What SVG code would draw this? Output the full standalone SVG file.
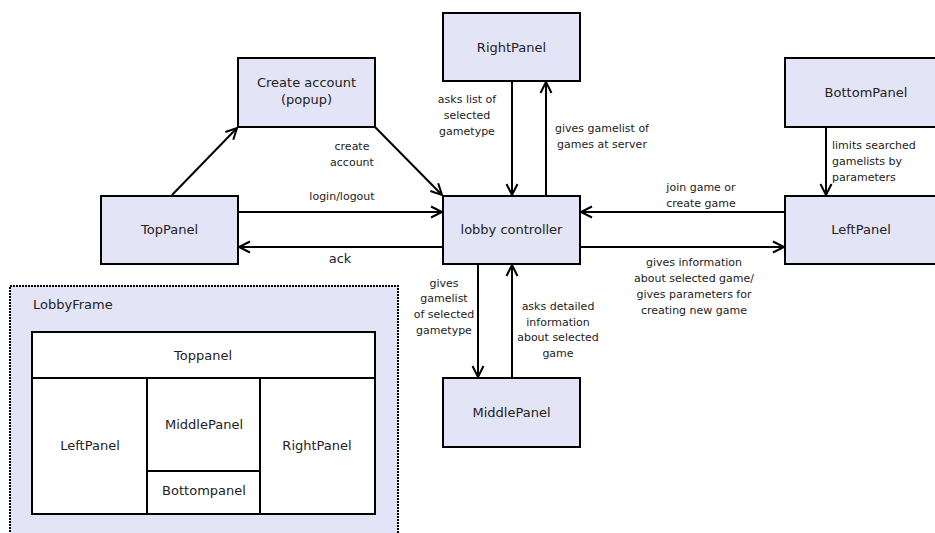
<svg xmlns="http://www.w3.org/2000/svg" width="935" height="533" viewBox="0 0 935 533">
  <style>
    .box { fill: #e4e4f7; stroke: #000; stroke-width: 2; }
    .cell { fill: #fff; stroke: #000; stroke-width: 2; }
    .frame { fill: #e4e4f7; stroke: #000; stroke-width: 2; stroke-dasharray: 2 1; }
    .edge { fill: none; stroke: #000; stroke-width: 2; marker-end: url(#arr); }
    .name { font-family: "DejaVu Sans", "Liberation Sans", sans-serif; font-size: 13px; fill: #222; text-anchor: middle; }
    .lbl { font-family: "DejaVu Sans", "Liberation Sans", sans-serif; font-size: 11px; fill: #222; text-anchor: middle; }
    .left { text-anchor: start; }
  </style>
  <defs>
    <marker id="arr" markerUnits="userSpaceOnUse" markerWidth="16" markerHeight="16" viewBox="-13 -8 16 16" refX="0" refY="0" orient="auto" overflow="visible">
      <path d="M-11,-5.5 L0,0 L-11,5.5" fill="none" stroke="#000" stroke-width="2"/>
    </marker>
  </defs>
  <rect width="935" height="533" fill="#fff"/>

  <!-- layout sketch of the lobby window -->
  <g id="lobbyframe">
    <rect class="frame" x="10" y="286" width="388" height="260"/>
    <text class="name left" x="33" y="309">LobbyFrame</text>
    <rect class="cell" x="32" y="332" width="343" height="182"/>
    <line x1="32" y1="378" x2="375" y2="378" stroke="#000" stroke-width="2"/>
    <line x1="147" y1="378" x2="147" y2="514" stroke="#000" stroke-width="2"/>
    <line x1="260" y1="378" x2="260" y2="514" stroke="#000" stroke-width="2"/>
    <line x1="147" y1="471" x2="260" y2="471" stroke="#000" stroke-width="2"/>
    <text class="name" x="203" y="359.5">Toppanel</text>
    <text class="name" x="90" y="450">LeftPanel</text>
    <text class="name" x="204" y="428.5">MiddlePanel</text>
    <text class="name" x="204" y="495">Bottompanel</text>
    <text class="name" x="317" y="450">RightPanel</text>
  </g>

  <!-- nodes -->
  <g id="createaccount">
    <rect class="box" x="238" y="58" width="137" height="69"/>
    <text class="name" x="306.5" y="87">Create account</text>
    <text class="name" x="306.5" y="103.5">(popup)</text>
  </g>
  <g id="toppanel">
    <rect class="box" x="101" y="196" width="137" height="68"/>
    <text class="name" x="169.5" y="234">TopPanel</text>
  </g>
  <g id="lobbycontroller">
    <rect class="box" x="443" y="196" width="137" height="68"/>
    <text class="name" x="511.5" y="234">lobby controller</text>
  </g>
  <g id="rightpanel">
    <rect class="box" x="443" y="13" width="137" height="68"/>
    <text class="name" x="511.5" y="51.5">RightPanel</text>
  </g>
  <g id="bottompanel">
    <rect class="box" x="785" y="58" width="162" height="69"/>
    <text class="name" x="866" y="97">BottomPanel</text>
  </g>
  <g id="leftpanel">
    <rect class="box" x="785" y="196" width="162" height="68"/>
    <text class="name" x="861" y="234">LeftPanel</text>
  </g>
  <g id="middlepanel">
    <rect class="box" x="443" y="378" width="137" height="69"/>
    <text class="name" x="511.5" y="417">MiddlePanel</text>
  </g>

  <!-- connectors -->
  <g id="connectors">
    <path class="edge" d="M172,195 L237,128"/>
    <path class="edge" d="M375,127 L442,195"/>
    <path class="edge" d="M238,212 L442,212"/>
    <path class="edge" d="M443,247 L239,247"/>
    <path class="edge" d="M512,81 L512,195"/>
    <path class="edge" d="M546,196 L546,82"/>
    <path class="edge" d="M785,212 L581,212"/>
    <path class="edge" d="M580,247 L784,247"/>
    <path class="edge" d="M826,127 L826,195"/>
    <path class="edge" d="M478,264 L478,377"/>
    <path class="edge" d="M512,378 L512,265"/>

    <text class="lbl" x="352" y="150">create</text>
    <text class="lbl" x="352" y="166">account</text>
    <text class="lbl" x="342" y="199.5">login/logout</text>
    <text class="name" x="340" y="263">ack</text>

    <text class="lbl" x="467" y="103">asks list of</text>
    <text class="lbl" x="467" y="119">selected</text>
    <text class="lbl" x="467" y="135">gametype</text>

    <text class="lbl" x="602" y="132">gives gamelist of</text>
    <text class="lbl" x="602" y="148">games at server</text>

    <text class="lbl left" x="832" y="149">limits searched</text>
    <text class="lbl left" x="832" y="165">gamelists by</text>
    <text class="lbl left" x="832" y="181">parameters</text>

    <text class="lbl" x="701" y="191">join game or</text>
    <text class="lbl" x="701" y="206.5">create game</text>

    <text class="lbl" x="694" y="265.5">gives information</text>
    <text class="lbl" x="694" y="281.5">about selected game/</text>
    <text class="lbl" x="694" y="297.5">gives parameters for</text>
    <text class="lbl" x="694" y="313.5">creating new game</text>

    <text class="lbl" x="444" y="286.5">gives</text>
    <text class="lbl" x="444" y="302">gamelist</text>
    <text class="lbl" x="444" y="318">of selected</text>
    <text class="lbl" x="444" y="334">gametype</text>

    <text class="lbl" x="558" y="309.5">asks detailed</text>
    <text class="lbl" x="558" y="325.5">information</text>
    <text class="lbl" x="558" y="341">about selected</text>
    <text class="lbl" x="558" y="357">game</text>
  </g>
</svg>
